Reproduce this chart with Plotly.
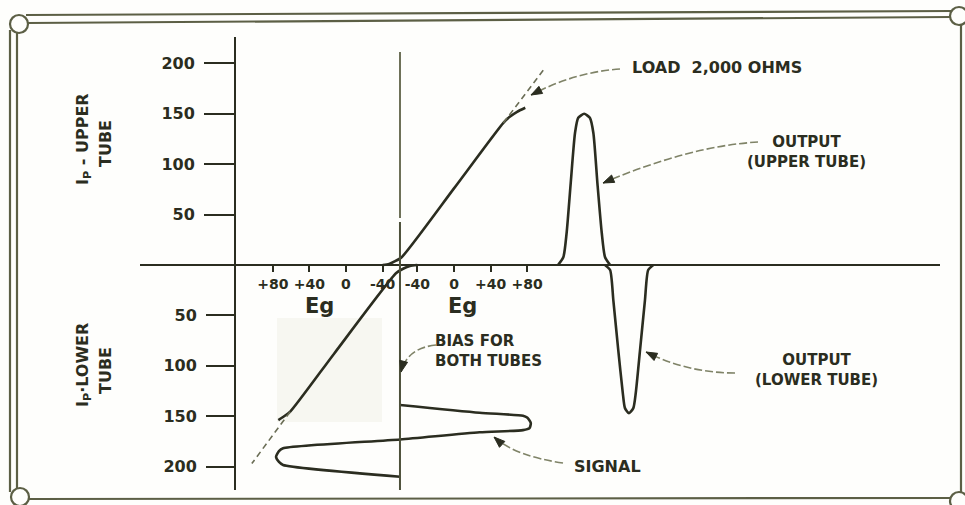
# -*- coding: utf-8 -*-
"""
Class B push-pull: composite Ip-Eg characteristic with signal and output.
"""

import plotly.graph_objects as go

# ---- data -------------------------------------------------------------
ip_tick_vals = [50, 100, 150, 200]
eg_tick_vals = [-40, 0, 40, 80]
eg_tick_text = ["-40", "0", "+40", "+80"]
bias_volts = -59.1

# upper tube, 2000 ohm load line (Eg in V, Ip in mA)
upper_eg = [-78, -71, -65, -57, 0, 54, 61, 69, 78]
upper_ip = [0, 1, 3.5, 8, 76, 141, 147, 152, 156]
upper_ext_eg = [54, 100]
upper_ext_ip = [141, 196]

# lower tube (its own Eg scale, Ip drawn downward)
lower_eg = [-78, -70, -63, -55, 13, 61, 68, 74]
lower_ip = [0, 1, 3.5, 8, 88, 145.5, 150.3, 153.8]
lower_ext_eg = [61, 103]
lower_ext_ip = [145.5, 197]

# output currents vs time (deg)
out_up_t = [0, 20, 32, 47, 63, 75, 97, 118, 131, 146, 162, 174, 193]
out_up_ip = [0, 8, 32, 81, 131, 146, 150, 146, 131, 81, 32, 8, 0]
out_lo_t = [174, 193, 205, 223, 240, 248, 263, 279, 288, 304, 322, 334, 353]
out_lo_ip = [0, 5, 35, 84, 127, 142, 147, 142, 127, 84, 35, 5, 0]

# grid signal vs time (deg), Eg on the upper tube scale
sig_t = [0, 39, 54, 63, 90, 116, 126, 137, 173, 217, 231, 260, 286, 301, 360]
sig_eg = [-59, 28, 75.5, 80, 84, 82.6, 75.5, 28, -59, -187, -191.5, -194.7, -191.5, -187, -59]

# ---- geometry / style -------------------------------------------------
W, H = 965, 505
PX_L, PX_R, PX_T, PX_B = 236, 940, 37, 490
AXIS_Y = 265
EG0_X, PX_PER_V = 454, 0.914
PX_PER_MA = 1.008
OUT_T0_X, OUT_PX_PER_T = 558, 0.27
SIG_T0_Y, SIG_PX_PER_T = 405, 0.1992

INK = "#2b2d20"
FRAME = "#5c5f45"
LEADER = "#7f8367"
FONT = "DejaVu Sans"
BG = "#fefefc"


def px(x, y):
    return x / W, 1 - y / H


x_range = [(PX_L - EG0_X) / PX_PER_V, (PX_R - EG0_X) / PX_PER_V]
x2_range = [2 * bias_volts - x_range[0], 2 * bias_volts - x_range[1]]
y_range = [-(PX_B - AXIS_Y) / PX_PER_MA, (AXIS_Y - PX_T) / PX_PER_MA]
y3_range = [-y_range[0], -y_range[1]]
x3_range = [(PX_L - OUT_T0_X) / OUT_PX_PER_T, (PX_R - OUT_T0_X) / OUT_PX_PER_T]
y2_range = [(PX_B - SIG_T0_Y) / SIG_PX_PER_T, (PX_T - SIG_T0_Y) / SIG_PX_PER_T]

dom_x = [PX_L / W, PX_R / W]
dom_y = [1 - PX_B / H, 1 - PX_T / H]
axis_pos = 1 - AXIS_Y / H

fig = go.Figure()

solid = dict(color=INK, width=2.6, shape="spline", smoothing=0.6)
dashed = dict(color="#6a6d55", width=1.6, dash="6px,4px")

fig.add_trace(go.Scatter(x=upper_eg, y=upper_ip, mode="lines", line=solid,
                         xaxis="x", yaxis="y"))
fig.add_trace(go.Scatter(x=upper_ext_eg, y=upper_ext_ip, mode="lines", line=dashed,
                         xaxis="x", yaxis="y"))
fig.add_trace(go.Scatter(x=lower_eg, y=lower_ip, mode="lines", line=solid,
                         xaxis="x2", yaxis="y3"))
fig.add_trace(go.Scatter(x=lower_ext_eg, y=lower_ext_ip, mode="lines", line=dashed,
                         xaxis="x2", yaxis="y3"))
fig.add_trace(go.Scatter(x=out_up_t, y=out_up_ip, mode="lines", line=solid,
                         xaxis="x3", yaxis="y"))
fig.add_trace(go.Scatter(x=out_lo_t, y=out_lo_ip, mode="lines", line=solid,
                         xaxis="x3", yaxis="y3"))
fig.add_trace(go.Scatter(x=sig_eg, y=sig_t, mode="lines", line=solid,
                         xaxis="x", yaxis="y2"))

tick_font = dict(family=FONT, size=16, color=INK, weight="bold")
eg_font = dict(family=FONT, size=14, color=INK, weight="bold")

fig.update_layout(
    width=W,
    height=H,
    margin=dict(l=0, r=0, t=0, b=0),
    paper_bgcolor=BG,
    plot_bgcolor="rgba(0,0,0,0)",
    showlegend=False,
    xaxis=dict(domain=dom_x, range=x_range, anchor="free", position=axis_pos,
               tickvals=eg_tick_vals, ticktext=eg_tick_text, ticks="outside",
               ticklen=6, tickwidth=1.5, tickcolor=INK, tickfont=eg_font,
               showgrid=False, zeroline=False, showline=False, automargin=False),
    xaxis2=dict(overlaying="x", range=x2_range, anchor="free", position=axis_pos,
                tickvals=eg_tick_vals[::-1], ticktext=["+80", "+40", "0", "-40"],
                ticks="outside", ticklen=6, tickwidth=1.5, tickcolor=INK,
                tickfont=eg_font, showgrid=False, zeroline=False, showline=False,
                automargin=False),
    xaxis3=dict(overlaying="x", range=x3_range, visible=False),
    yaxis=dict(domain=dom_y, range=y_range, anchor="x", side="left",
               tickvals=ip_tick_vals, ticks="outside", ticklen=30, tickwidth=2,
               tickcolor=INK, tickfont=tick_font, ticklabelstandoff=6,
               showline=True, linecolor=INK, linewidth=2,
               showgrid=False, zeroline=False, automargin=False),
    yaxis2=dict(overlaying="y", range=y2_range, visible=False),
    yaxis3=dict(overlaying="y", range=y3_range, anchor="free", position=dom_x[0],
                side="left", tickvals=ip_tick_vals, ticks="outside", ticklen=30,
                tickwidth=2, tickcolor=INK, tickfont=tick_font, ticklabelstandoff=6,
                showline=False, showgrid=False, zeroline=False, automargin=False),
)

shapes = []

# faint pasted-in patch behind the lower curve
x0, y0 = px(277, 318)
x1, y1 = px(382, 422)
shapes.append(dict(type="rect", xref="paper", yref="paper", x0=x0, y0=y0, x1=x1,
                   y1=y1, fillcolor="#f7f7f1", line=dict(width=0), layer="below"))

# Eg axis (runs further left than the plot area)
shapes.append(dict(type="line", xref="paper", yref="y", x0=140 / W, x1=PX_R / W,
                   y0=0, y1=0, line=dict(color=INK, width=2)))

# bias line, common to both tubes
shapes.append(dict(type="line", xref="x", yref="y", x0=bias_volts, x1=bias_volts,
                   y0=(AXIS_Y - 218) / PX_PER_MA, y1=(AXIS_Y - 52) / PX_PER_MA,
                   line=dict(color="#6e7158", width=2)))
shapes.append(dict(type="line", xref="x", yref="y", x0=bias_volts, x1=bias_volts,
                   y0=y_range[0], y1=(AXIS_Y - 222) / PX_PER_MA,
                   line=dict(color="#4d503a", width=2)))


# frame
def frame_line(xa, ya, xb, yb, w=2.2):
    a = px(xa, ya)
    b = px(xb, yb)
    shapes.append(dict(type="line", xref="paper", yref="paper", x0=a[0], y0=a[1],
                       x1=b[0], y1=b[1], line=dict(color=FRAME, width=w)))


frame_line(26, 15, 952, 11)
frame_line(27, 23, 952, 17)
frame_line(10, 30, 10, 492)
frame_line(17, 33, 17, 490)
frame_line(28, 499, 952, 498)
frame_line(961, 25, 961, 494)

for cx, cy in [(19, 24), (959, 16), (20, 497), (959, 501)]:
    a = px(cx - 9, cy - 9)
    b = px(cx + 9, cy + 9)
    shapes.append(dict(type="circle", xref="paper", yref="paper", x0=a[0], y0=b[1],
                       x1=b[0], y1=a[1], fillcolor=BG,
                       line=dict(color=FRAME, width=2.2)))

# curved leaders for the notes, each ending in a small filled arrowhead
leaders = [
    ((620, 69), (575, 72), (531, 95)),
    ((758, 142), (690, 146), (603, 183)),
    ((735, 373), (688, 373), (646, 352)),
    ((563, 463), (515, 456), (494, 437)),
    ((436, 345), (407, 348), (401, 372)),
]
for start, ctrl, end in leaders:
    s, c, e = px(*start), px(*ctrl), px(*end)
    shapes.append(dict(type="path", xref="paper", yref="paper",
                       path=f"M {s[0]},{s[1]} Q {c[0]},{c[1]} {e[0]},{e[1]}",
                       line=dict(color=LEADER, width=1.6, dash="8px,3px")))
    dx, dy = ctrl[0] - end[0], ctrl[1] - end[1]
    n = (dx * dx + dy * dy) ** 0.5
    ux, uy = dx / n, dy / n
    bx, by = end[0] + ux * 11, end[1] + uy * 11
    p1 = px(bx - uy * 4, by + ux * 4)
    p2 = px(bx + uy * 4, by - ux * 4)
    shapes.append(dict(type="path", xref="paper", yref="paper",
                       path=f"M {e[0]},{e[1]} L {p1[0]},{p1[1]} L {p2[0]},{p2[1]} Z",
                       fillcolor=INK, line=dict(color=INK, width=1)))

annotations = []
label_font = dict(family=FONT, size=15, color=INK, weight="bold")


def note(text, x, y, xanchor="center", size=None, angle=0, align="center"):
    f = dict(label_font)
    if size:
        f["size"] = size
    p = px(x, y)
    annotations.append(dict(text=text, x=p[0], y=p[1], xref="paper", yref="paper",
                            xanchor=xanchor, yanchor="middle", showarrow=False,
                            font=f, textangle=angle, align=align))


note("LOAD\u00a0 2,000 OHMS", 717, 67, size=16)
note("OUTPUT<br>(UPPER TUBE)", 806, 152)
note("OUTPUT<br>(LOWER TUBE)", 816, 370)
note("SIGNAL", 607, 466, size=16)
note("BIAS FOR<br>BOTH TUBES", 433, 351, xanchor="left", align="left")
note("I<sub>P</sub> - UPPER", 83, 139, size=16, angle=-90)
note("TUBE", 105, 144, size=16, angle=-90)
note("I<sub>P</sub>\u00b7LOWER", 83, 365, size=16, angle=-90)
note("TUBE", 105, 371, size=16, angle=-90)

eg_label = dict(family=FONT, size=21, color=INK, weight="bold")
for x in (303, 462):
    p = px(x, 306)
    annotations.append(dict(text="Eg", x=p[0], y=p[1], xref="paper", yref="paper",
                            showarrow=False, font=eg_label))

fig.update_layout(shapes=shapes, annotations=annotations)

fig.write_html("out.html", config={"displayModeBar": False},
               post_script="document.body.style.margin='0';")
